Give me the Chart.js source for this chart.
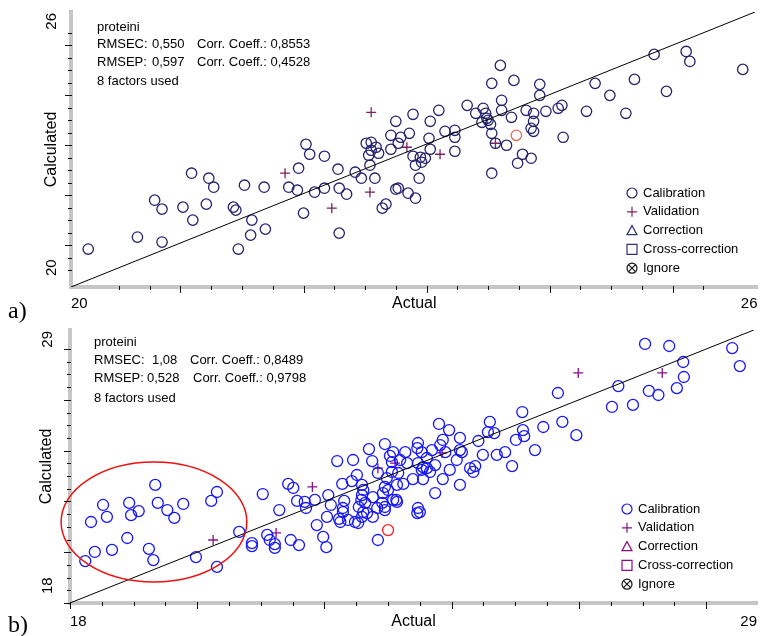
<!DOCTYPE html>
<html>
<head>
<meta charset="utf-8">
<script src="https://cdn.jsdelivr.net/npm/chart.js@4.4.1/dist/chart.umd.min.js"></script>
<style>
  html, body { margin: 0; padding: 0; background: #fff; }
  #page { position: relative; width: 764px; height: 636px; overflow: hidden; font-family: "Liberation Sans", Arial, sans-serif; }
  .panel { position: absolute; left: 0; width: 764px; height: 318px; }
  .ln { position: absolute; height: 16px; font-size: 13px; line-height: 16px; color: #000; white-space: pre; }
  .ln span { position: absolute; top: 0; }
  .tag { position: absolute; left: 8px; font-family: "Liberation Serif", "Times New Roman", serif; font-size: 24px; line-height: 24px; }
</style>
</head>
<body>
<div id="page">
  <div class="panel" style="top:0"><canvas id="chartA" width="764" height="318"></canvas></div>
  <div class="panel" style="top:318px"><canvas id="chartB" width="764" height="318"></canvas></div>

  <div class="ln" style="left:97px; top:19px"><span style="left:0">proteini</span></div>
  <div class="ln" style="left:97px; top:36px"><span style="left:0">RMSEC:</span><span style="left:55px">0,550</span><span style="left:100px">Corr. Coeff.: 0,8553</span></div>
  <div class="ln" style="left:97px; top:54px"><span style="left:0">RMSEP:</span><span style="left:55px">0,597</span><span style="left:100px">Corr. Coeff.: 0,4528</span></div>
  <div class="ln" style="left:97px; top:73px"><span style="left:0">8 factors used</span></div>
  <div class="tag" style="top:298px">a)</div>

  <div class="ln" style="left:94px; top:334px"><span style="left:0">proteini</span></div>
  <div class="ln" style="left:94px; top:352px"><span style="left:0">RMSEC:</span><span style="left:58px">1,08</span><span style="left:96px">Corr. Coeff.: 0,8489</span></div>
  <div class="ln" style="left:94px; top:370px"><span style="left:0">RMSEP:</span><span style="left:53px">0,528</span><span style="left:99px">Corr. Coeff.: 0,9798</span></div>
  <div class="ln" style="left:94px; top:390px"><span style="left:0">8 factors used</span></div>
  <div class="tag" style="top:612px">b)</div>
</div>

<script>
// ---------- panel a data (Actual, Calculated) ----------
const aCalX = [20.25, 20.65, 20.85, 20.79, 20.85, 21.02, 21.10, 21.09, 21.23, 21.27,
  21.21, 21.43, 21.45, 21.52, 21.58, 21.57, 21.69, 21.47, 21.68, 21.88,
  21.95, 21.96, 22.05, 22.17, 22.00, 22.09, 22.17, 22.28, 22.29, 22.35,
  22.29, 22.42, 22.47, 22.54, 22.58, 22.02, 22.51, 22.55, 22.55, 22.59,
  22.61, 22.53, 22.64, 22.67, 22.71, 22.75, 22.71, 22.75, 22.89, 23.03,
  23.10, 22.79, 22.86, 22.77, 23.02, 23.15, 23.23, 23.23, 23.23, 22.89,
  22.95, 22.96, 22.99, 22.91, 23.03, 22.94, 22.77, 22.85, 22.91, 23.60,
  23.53, 23.71, 23.92, 23.92, 24.10, 24.07, 24.11, 23.33, 23.40, 23.46,
  23.48, 23.61, 23.61, 23.50, 23.52, 23.53, 23.69, 23.81, 23.87, 23.87,
  23.97, 23.85, 23.87, 23.56, 23.65, 23.78, 23.85, 23.74, 23.53, 24.37,
  24.49, 24.69, 24.85, 25.11, 25.14, 25.57, 24.95, 24.62, 24.30, 23.45, 23.49];
const aCalY = [20.92, 21.16, 21.06, 21.90, 21.72, 21.76, 21.50, 22.44, 22.34, 22.16,
  21.82, 21.76, 21.70, 22.20, 21.50, 21.20, 21.32, 20.92, 22.16, 22.16,
  22.10, 22.54, 22.82, 22.78, 21.64, 22.06, 22.14, 22.52, 22.14, 22.02,
  21.24, 22.46, 22.34, 22.60, 22.34, 23.02, 23.04, 23.06, 22.90, 22.96,
  22.84, 22.80, 21.74, 21.82, 23.20, 23.48, 22.92, 22.12, 23.62, 23.48,
  23.70, 23.16, 23.24, 23.04, 23.14, 23.28, 23.30, 23.16, 22.88, 22.78,
  22.76, 22.66, 22.74, 22.60, 22.92, 22.34, 22.14, 22.04, 21.94, 24.60,
  24.24, 24.30, 24.22, 24.00, 23.80, 23.74, 23.16, 23.80, 23.64, 23.74,
  23.64, 23.90, 23.70, 23.50, 23.42, 23.24, 23.56, 23.70, 23.64, 23.48,
  23.68, 23.34, 23.28, 23.04, 23.00, 22.82, 22.74, 22.64, 22.44, 24.24,
  24.00, 24.32, 24.82, 24.88, 24.68, 24.52, 24.08, 23.64, 23.68, 23.46, 23.54];
const aValX = [21.85, 22.23, 22.54, 22.55, 22.84, 23.11, 23.56];
const aValY = [22.44, 21.74, 22.06, 23.66, 22.96, 22.82, 23.04];
const aOutX = [23.73];
const aOutY = [23.20];
const aXRange = [20.11, 25.69];
const aYRange = [20.16, 25.67];
const aXLabels = ['20', '26'];
const aYLabels = ['20', '26'];

// ---------- panel b data ----------
const bCalX = [18.24, 18.39, 18.33, 18.52, 18.58, 18.66, 18.90, 18.93, 18.96, 19.08,
  19.34, 19.38, 19.53, 19.64, 19.78, 19.24, 19.31, 19.98, 20.22, 20.31, 20.66, 20.31,
  21.03, 20.86, 20.86, 21.10, 21.14, 21.22, 21.22, 21.29, 21.43, 21.51,
  21.57, 21.47, 21.60, 21.69, 21.71, 21.85, 21.88, 21.98, 22.03, 22.04,
  22.06, 22.10, 22.20, 22.45, 22.28, 22.31, 22.29, 22.29, 22.23, 22.25,
  22.37, 22.43, 22.48, 22.53, 22.51, 22.59, 22.61, 22.59, 22.58, 22.64,
  22.54, 22.61, 22.67, 22.59, 22.70, 22.75, 22.95, 23.03, 23.06, 22.84,
  22.98, 22.95, 23.00, 22.76, 22.91, 22.83, 22.95, 22.76, 22.84, 23.16, 23.14, 23.13,
  23.08, 23.19, 23.30, 23.06, 23.39, 23.55, 23.24, 23.08, 23.14, 23.47,
  23.50, 23.46, 23.47, 23.46, 23.53, 23.27, 23.61, 23.69, 23.47, 23.55,
  23.61, 23.53, 23.66, 23.74, 23.90, 23.80, 23.96, 23.86, 23.82, 24.13,
  24.42, 24.13, 24.16, 24.49, 24.71, 24.84, 24.95, 24.08, 24.29, 24.37,
  24.34, 23.97, 23.86, 24.13, 23.74, 22.95, 22.92,
  25.11, 24.60, 24.57, 24.67, 25.12, 25.14, 25.01, 25.31, 25.44, 25.74,
  25.96, 25.67, 26.62, 26.52, 26.85, 27.10, 27.25, 27.54, 27.65, 27.64,
  27.04, 27.42, 28.41, 28.53];
const bCalY = [19.65, 20.01, 21.19, 21.86, 21.39, 20.09, 20.56, 21.94, 21.46, 21.62,
  22.65, 21.94, 21.66, 21.35, 21.90, 20.13, 19.69, 19.81, 22.02, 22.37, 20.80, 19.42,
  22.29, 20.36, 20.24, 20.68, 20.48, 20.32, 20.17, 21.66, 22.69, 22.53,
  22.02, 20.48, 20.28, 21.98, 21.74, 22.06, 21.07, 20.60, 20.20, 21.39,
  22.25, 21.86, 23.59, 23.63, 22.69, 22.02, 21.74, 21.58, 21.31, 21.19,
  21.27, 22.80, 21.19, 21.15, 23.04, 22.65, 22.45, 22.25, 22.06, 21.94,
  21.78, 21.58, 21.54, 21.39, 24.06, 23.59, 24.26, 23.79, 23.55, 23.12,
  22.92, 22.57, 22.45, 22.17, 21.94, 21.74, 21.78, 21.39, 20.48, 23.12, 22.65, 22.06,
  23.94, 23.63, 23.51, 23.16, 22.88, 22.88, 22.69, 22.06, 21.98, 21.74,
  21.58, 21.54, 24.30, 24.10, 23.94, 23.94, 23.71, 24.02, 23.51, 23.35,
  23.31, 23.24, 23.16, 23.43, 23.94, 25.05, 24.81, 24.42, 24.22, 24.50,
  24.38, 24.02, 23.94, 23.83, 23.83, 23.94, 23.39, 23.63, 23.31, 23.39,
  23.16, 23.24, 22.88, 22.65, 22.33, 21.66, 22.33,
  25.52, 25.13, 24.73, 24.69, 24.81, 24.57, 24.42, 24.02, 24.93, 25.13,
  24.61, 26.27, 26.54, 25.72, 25.80, 26.35, 26.19, 26.46, 26.90, 27.49,
  28.20, 28.12, 28.04, 27.33];
const bValX = [20.25, 21.24, 21.81, 22.84, 23.11, 23.85, 25.99, 27.31];
const bValY = [20.48, 20.76, 22.57, 23.31, 23.51, 23.91, 27.06, 27.06];
const bOutX = [23.00];
const bOutY = [20.87];
const bXRange = [18, 28.8];
const bYRange = [18, 28.75];
const bXLabels = ['18', '29'];
const bYLabels = ['18', '29'];
// circled group in panel b: centre and half-widths in data units
const bRing = { x: 19.32, y: 21.19, rx: 1.46, ry: 2.36 };

const FONT = '"Liberation Sans", Arial, sans-serif';

function pts(xs, ys) {
    return xs.map((x, i) => ({ x: x, y: ys[i] }));
}

// small symbol painter for the legend box
function drawSymbol(ctx, style, x, y, r) {
    ctx.beginPath();
    if (style === 'circle') {
        ctx.arc(x, y, r, 0, Math.PI * 2);
    } else if (style === 'cross') {
        ctx.moveTo(x - r, y); ctx.lineTo(x + r, y);
        ctx.moveTo(x, y - r); ctx.lineTo(x, y + r);
    } else if (style === 'triangle') {
        ctx.moveTo(x, y - r); ctx.lineTo(x + r, y + r * 0.8); ctx.lineTo(x - r, y + r * 0.8); ctx.closePath();
    } else if (style === 'rect') {
        ctx.rect(x - r, y - r, r * 2, r * 2);
    } else if (style === 'crossRot') {
        const d = r * 0.75;
        ctx.moveTo(x - d, y - d); ctx.lineTo(x + d, y + d);
        ctx.moveTo(x + d, y - d); ctx.lineTo(x - d, y + d);
    }
    ctx.stroke();
}

const axisDeco = {
    id: 'axisDeco',
    afterDraw(chart, args, o) {
        const ctx = chart.ctx;
        const xs = chart.scales.x, ys = chart.scales.y;
        const onStep = v => Math.abs(v / o.step - Math.round(v / o.step)) < 1e-6;
        const isMajor = v => Math.round(v / o.step) % o.majorEvery === 0;
        ctx.save();
        ctx.strokeStyle = '#111';
        ctx.lineWidth = 1;
        xs.ticks.forEach(t => {
            if (!onStep(t.value)) return;
            const p = Math.round(xs.getPixelForValue(t.value)) + 0.5;
            ctx.beginPath();
            ctx.moveTo(p, xs.top - 1);
            ctx.lineTo(p, xs.top + (isMajor(t.value) ? 6 : 3));
            ctx.stroke();
        });
        ys.ticks.forEach(t => {
            if (!onStep(t.value)) return;
            const p = Math.round(ys.getPixelForValue(t.value)) + 0.5;
            ctx.beginPath();
            ctx.moveTo(ys.right + 1, p);
            ctx.lineTo(ys.right - (isMajor(t.value) ? 6 : 3), p);
            ctx.stroke();
        });
        // end labels of the vertical axis, written upwards
        ctx.fillStyle = '#000';
        ctx.font = '15px ' + FONT;
        ctx.textBaseline = 'middle';
        const top = ys.getPixelForValue(ys.max);
        const bottom = ys.getPixelForValue(ys.min);
        [[o.yLabels[1], top + 1, 'right'], [o.yLabels[0], bottom - o.bottomGap, 'left']].forEach(([txt, y, align]) => {
            ctx.save();
            ctx.translate(o.labelX, y);
            ctx.rotate(-Math.PI / 2);
            ctx.textAlign = align;
            ctx.fillText(txt, 0, 0);
            ctx.restore();
        });
        ctx.restore();
    }
};

const boxLegend = {
    id: 'boxLegend',
    afterDraw(chart, args, o) {
        const ctx = chart.ctx;
        ctx.save();
        ctx.font = '13px ' + FONT;
        ctx.textBaseline = 'middle';
        ctx.textAlign = 'left';
        chart.data.datasets.filter(d => d.inLegend).forEach((d, i) => {
            const y = o.y + i * o.rowH;
            ctx.strokeStyle = d.borderColor;
            ctx.lineWidth = 1.2;
            drawSymbol(ctx, d.pointStyle, o.x, y, 5);
            if (d.extraStyle) drawSymbol(ctx, d.extraStyle, o.x, y, 5);
            ctx.fillStyle = '#000';
            ctx.fillText(d.label, o.textX, y);
        });
        ctx.restore();
    }
};

const ringNote = {
    id: 'ringNote',
    afterDatasetsDraw(chart, args, o) {
        if (!o.ring) return;
        const ctx = chart.ctx;
        const xs = chart.scales.x, ys = chart.scales.y;
        const cx = xs.getPixelForValue(o.ring.x);
        const cy = ys.getPixelForValue(o.ring.y);
        const rx = Math.abs(xs.getPixelForValue(o.ring.x + o.ring.rx) - cx);
        const ry = Math.abs(ys.getPixelForValue(o.ring.y + o.ring.ry) - cy);
        ctx.save();
        ctx.strokeStyle = '#f01010';
        ctx.lineWidth = 1.5;
        ctx.beginPath();
        ctx.ellipse(cx, cy, rx, ry, 0, 0, Math.PI * 2);
        ctx.stroke();
        ctx.restore();
    }
};

function makePanel(id, d) {
    const hi = Math.min(d.xRange[1], d.yRange[1]);
    const ctx = document.getElementById(id).getContext('2d');
    return new Chart(ctx, {
        type: 'scatter',
        data: {
            datasets: [
                { label: 'fit', type: 'line', data: [{ x: d.xRange[0], y: d.yRange[0] }, { x: hi, y: hi }],
                  borderColor: '#000', borderWidth: 1, pointRadius: 0, showLine: true, fill: false },
                { label: 'Calibration', inLegend: true, data: pts(d.calX, d.calY), pointStyle: 'circle',
                  pointRadius: d.r, borderColor: d.calColor, backgroundColor: 'rgba(0,0,0,0)', borderWidth: 1.3 },
                { label: 'Validation', inLegend: true, data: pts(d.valX, d.valY), pointStyle: 'cross',
                  pointRadius: 5, borderColor: d.valColor, borderWidth: 1.3 },
                { label: 'Correction', inLegend: true, data: [], pointStyle: 'triangle', borderColor: d.corColor },
                { label: 'Cross-correction', inLegend: true, data: [], pointStyle: 'rect', borderColor: d.corColor },
                { label: 'Ignore', inLegend: true, data: [], pointStyle: 'circle', extraStyle: 'crossRot', borderColor: '#111' },
                { label: 'outlier', data: pts(d.outX, d.outY), pointStyle: 'circle', pointRadius: d.r,
                  borderColor: d.outColor, backgroundColor: 'rgba(0,0,0,0)', borderWidth: 1.3 }
            ]
        },
        options: {
            responsive: false,
            animation: false,
            layout: { padding: { top: 12, right: d.padRight, bottom: 0, left: 0 } },
            plugins: {
                legend: { display: false },
                tooltip: { enabled: false },
                axisDeco: { step: d.step, majorEvery: 4, yLabels: d.yLabels, labelX: d.labelX, bottomGap: d.bottomGap },
                boxLegend: { x: d.legX, textX: d.legX + 11, y: d.legY, rowH: 18.8 },
                ringNote: { ring: d.ring }
            },
            scales: {
                x: {
                    type: 'linear', min: d.xRange[0], max: d.xRange[1],
                    afterFit: s => { s.height = d.xAxisH; },
                    grid: { display: false, drawTicks: true, tickLength: 4 },
                    border: { display: true, color: '#c6c6c6', width: 4 },
                    ticks: {
                        stepSize: d.step, maxTicksLimit: 200, autoSkip: false, maxRotation: 0,
                        align: 'inner', padding: d.xTickPad, color: '#000', font: { family: FONT, size: 15 },
                        callback: (v, i, arr) => i === 0 ? d.xLabels[0] : (i === arr.length - 1 ? d.xLabels[1] : '')
                    },
                    title: { display: true, text: 'Actual', color: '#000', font: { family: FONT, size: 16 },
                             padding: { top: 0, bottom: 4.4 } }
                },
                y: {
                    type: 'linear', min: d.yRange[0], max: d.yRange[1],
                    afterFit: s => { s.width = d.yAxisW; },
                    grid: { display: false },
                    border: { display: true, color: '#c6c6c6', width: 4 },
                    ticks: { display: false, stepSize: d.step, maxTicksLimit: 200 },
                    title: { display: true, text: 'Calculated', color: '#000', font: { family: FONT, size: 16 },
                             padding: { top: d.titleGap, bottom: 0 } }
                }
            }
        },
        plugins: [axisDeco, boxLegend, ringNote]
    });
}

makePanel('chartA', {
    calX: aCalX, calY: aCalY, valX: aValX, valY: aValY, outX: aOutX, outY: aOutY,
    xRange: aXRange, yRange: aYRange, xLabels: aXLabels, yLabels: aYLabels,
    step: 0.25, r: 5.2, calColor: '#22226e', valColor: '#7a2262', corColor: '#34346e', outColor: '#e06a55',
    padRight: 4, xAxisH: 31, yAxisW: 71, xTickPad: 4, titleGap: 42.4, labelX: 52, bottomGap: 11,
    legX: 632, legY: 193, ring: null
});

makePanel('chartB', {
    calX: bCalX, calY: bCalY, valX: bValX, valY: bValY, outX: bOutX, outY: bOutY,
    xRange: bXRange, yRange: bYRange, xLabels: bXLabels, yLabels: bYLabels,
    step: 0.5, r: 5.5, calColor: '#1515ff', valColor: '#86108a', corColor: '#86108a', outColor: '#ff1a1a',
    padRight: 7, xAxisH: 33, yAxisW: 70, xTickPad: 6, titleGap: 37.4, labelX: 48, bottomGap: 9,
    legX: 627, legY: 191, ring: bRing
});
</script>
</body>
</html>
